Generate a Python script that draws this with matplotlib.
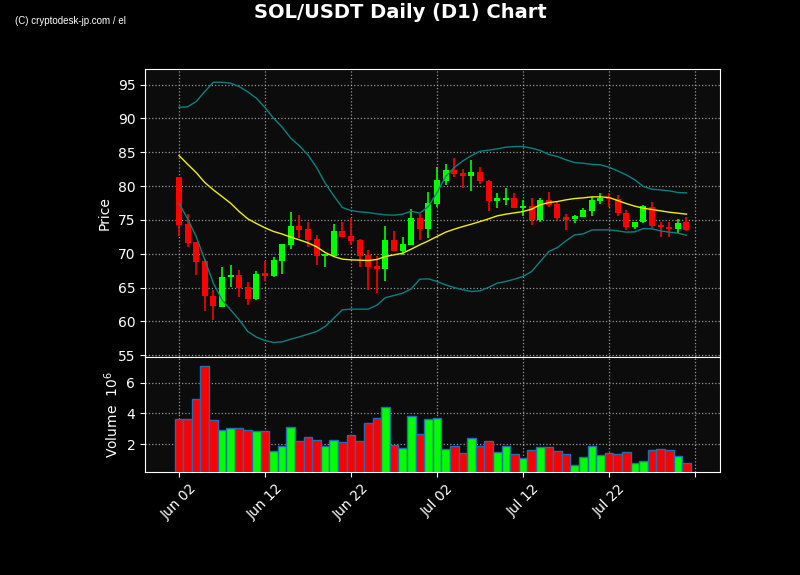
import matplotlib

matplotlib.use("Agg")
import matplotlib.pyplot as plt
import numpy as np
import pandas as pd

# Daily candles, Jun 02 .. Jul 31
dates = pd.date_range("2024-06-02", periods=60, freq="D")

opens = [81.35, 74.41, 71.75, 68.94, 63.80, 62.19, 66.48, 66.87, 65.10, 63.23,
         67.07, 66.77, 68.94, 71.35, 74.16, 73.67, 72.19, 69.73, 69.73, 73.37,
         72.68, 72.09, 69.78, 68.20, 67.76, 72.04, 70.42, 71.30, 75.30, 73.67,
         77.31, 80.67, 82.39, 81.95, 81.55, 82.09, 80.76, 77.86, 78.00, 78.25,
         76.82, 77.07, 75.05, 77.96, 77.41, 75.49, 75.10, 75.44, 76.33, 77.86,
         78.30, 78.05, 76.03, 74.01, 74.61, 76.92, 74.31, 74.01, 73.72, 74.70]
highs = [81.40, 75.89, 71.80, 69.19, 64.70, 68.00, 68.30, 67.56, 65.79, 67.41,
         68.89, 69.58, 71.50, 76.13, 75.69, 74.75, 72.73, 70.00, 74.41, 74.75,
         75.25, 72.10, 70.52, 69.73, 74.06, 73.28, 72.44, 76.58, 75.84, 79.09,
         82.78, 83.23, 84.11, 82.49, 83.82, 82.78, 80.90, 79.00, 79.73, 79.00,
         77.96, 78.20, 78.20, 79.09, 77.66, 75.89, 75.74, 76.72, 78.45, 79.00,
         79.00, 78.65, 76.53, 74.70, 77.22, 77.66, 74.66, 74.66, 75.10, 75.39]
lows = [72.64, 70.96, 66.82, 61.55, 60.20, 62.10, 65.05, 63.57, 62.39, 63.20,
        66.03, 66.60, 66.97, 70.67, 72.29, 70.96, 68.35, 68.00, 69.73, 72.49,
        71.21, 68.10, 64.70, 64.16, 65.94, 70.42, 69.78, 71.30, 72.00, 72.29,
        76.87, 80.17, 81.40, 79.68, 79.24, 80.37, 76.28, 76.72, 77.17, 76.82,
        75.64, 74.21, 74.70, 76.97, 75.05, 73.47, 74.50, 75.44, 75.54, 77.41,
        76.92, 75.59, 73.52, 73.62, 74.60, 73.77, 72.49, 72.49, 73.13, 73.28]
closes = [74.26, 71.65, 68.84, 63.67, 62.20, 66.58, 66.87, 65.00, 63.23, 67.02,
          66.77, 69.09, 71.45, 74.16, 73.57, 72.04, 69.73, 69.93, 73.37, 72.49,
          71.90, 69.73, 68.00, 67.76, 72.04, 70.42, 71.45, 75.30, 73.67, 77.51,
          80.91, 82.39, 81.80, 81.55, 82.04, 80.67, 77.86, 78.20, 78.30, 76.82,
          77.07, 75.05, 77.96, 77.22, 75.34, 75.05, 75.59, 76.48, 77.96, 78.30,
          78.15, 75.94, 74.01, 74.70, 77.02, 74.11, 73.92, 73.72, 74.56, 73.52]

# volume in millions
volumes = [3.64, 3.64, 4.95, 7.05, 3.57, 2.89, 3.05, 3.05, 2.92, 2.83,
           2.83, 1.52, 1.87, 3.11, 2.19, 2.46, 2.26, 1.87, 2.26, 2.13,
           2.59, 2.19, 3.38, 3.70, 4.43, 1.95, 1.74, 3.84, 2.66, 3.64,
           3.70, 1.71, 1.87, 1.41, 2.39, 1.87, 2.17, 1.47, 1.87, 1.34,
           1.08, 1.61, 1.78, 1.78, 1.52, 1.34, 0.62, 1.15, 1.87, 1.28,
           1.41, 1.34, 1.47, 0.75, 0.89, 1.61, 1.67, 1.61, 1.21, 0.75]

# Bollinger bands (20, 2) as drawn
bb_upper = [91.65, 91.70, 92.49, 93.97, 95.34, 95.34, 95.20, 94.70, 93.92, 92.98,
            91.60, 90.02, 88.70, 87.07, 85.94, 84.60, 82.73, 80.42, 78.55, 76.82,
            76.38, 76.18, 76.08, 75.89, 75.74, 75.69, 75.84, 76.28, 75.99, 76.97,
            79.04, 81.40, 82.73, 83.71, 84.50, 85.14, 85.30, 85.49, 85.74, 85.84,
            85.84, 85.59, 85.25, 84.66, 84.36, 83.87, 83.47, 83.37, 83.20, 83.13,
            82.78, 82.24, 81.65, 80.91, 79.93, 79.53, 79.43, 79.29, 79.04, 78.99]
bb_mid = [84.51, 83.23, 81.99, 80.52, 79.43, 78.45, 77.46, 76.23, 75.15, 74.46,
          73.82, 73.28, 72.90, 72.44, 72.04, 71.60, 71.01, 70.17, 69.58, 69.19,
          69.09, 69.04, 68.99, 69.14, 69.58, 69.83, 70.07, 70.67, 71.31, 71.90,
          72.54, 73.18, 73.62, 74.01, 74.36, 74.75, 75.15, 75.59, 75.84, 76.03,
          76.23, 76.58, 77.22, 77.56, 77.71, 77.96, 78.15, 78.25, 78.40, 78.40,
          78.30, 77.86, 77.41, 77.02, 76.72, 76.53, 76.33, 76.13, 75.99, 75.84]
bb_lower = [77.46, 75.15, 72.54, 69.09, 65.64, 63.18, 61.70, 60.22, 58.50, 57.66,
            57.17, 56.87, 56.97, 57.36, 57.71, 58.10, 58.50, 59.24, 60.47, 61.70,
            61.80, 61.80, 61.80, 62.39, 63.50, 63.82, 64.16, 64.80, 66.23, 66.28,
            65.89, 65.39, 65.00, 64.66, 64.41, 64.51, 65.02, 65.64, 65.89, 66.23,
            66.63, 67.36, 68.84, 70.32, 70.91, 71.90, 72.78, 72.93, 73.50, 73.52,
            73.52, 73.37, 73.18, 73.23, 73.72, 73.67, 73.37, 73.18, 73.03, 72.73]


def main() -> None:
    x = np.arange(len(dates))
    o = np.array(opens)
    c = np.array(closes)
    up = c >= o
    colors = np.where(up, "#00ff00", "#ff0000")

    fig = plt.figure(figsize=(8, 5.75), dpi=100, facecolor="black")
    ax = fig.add_axes([0.18125, 0.38, 0.71875, 0.50])
    axv = fig.add_axes([0.18125, 0.179, 0.71875, 0.201], sharex=ax)

    for a in (ax, axv):
        a.set_facecolor("#0c0c0c")
        for s in a.spines.values():
            s.set_color("white")
        a.tick_params(colors="white", labelsize=10)
        a.grid(True, color="#bbbbbb", linestyle=":", linewidth=0.9, alpha=0.8)
        a.set_axisbelow(True)

    # candles
    ax.vlines(x, lows, highs, colors=colors, linewidth=1.2, zorder=2)
    ax.bar(x, np.abs(c - o), bottom=np.minimum(o, c), width=0.7,
           color=colors, zorder=3)
    ax.plot(x, bb_upper, color="#0b8080", linewidth=1.0, zorder=4)
    ax.plot(x, bb_lower, color="#0b8080", linewidth=1.0, zorder=4)
    ax.plot(x, bb_mid, color="#f0f000", linewidth=1.0, zorder=4)
    ax.set_ylim(54.8, 97.3)
    ax.set_yticks(np.arange(55, 96, 5))
    ax.set_ylabel("Price", color="white", fontsize=10)
    ax.tick_params(axis="x", labelbottom=False, length=0)

    # volume
    axv.bar(x, volumes, width=1.0, color=colors, edgecolor="#1f6fb4",
            linewidth=1.0, zorder=3)
    axv.set_ylim(0.18, 7.7)
    axv.set_yticks([2, 4, 6])
    axv.set_ylabel("Volume  $10^6$", color="white", fontsize=10)

    ticks = np.arange(0, 61, 10)
    labels = [dates[t].strftime("%b %d") if t < len(dates) else "" for t in ticks]
    axv.set_xticks(ticks)
    axv.set_xticklabels(labels, rotation=45)
    axv.set_xlim(-3.95, 62.9)

    fig.suptitle("SOL/USDT Daily (D1) Chart", color="white", fontsize=14,
                 fontweight="bold", y=0.995)
    fig.text(0.019, 0.963, "(C) cryptodesk-jp.com / el", color="white",
             fontsize=7, va="center", family="Liberation Sans")

    fig.savefig("out.png", dpi=100, facecolor="black")
    plt.close(fig)


if __name__ == "__main__":
    main()
